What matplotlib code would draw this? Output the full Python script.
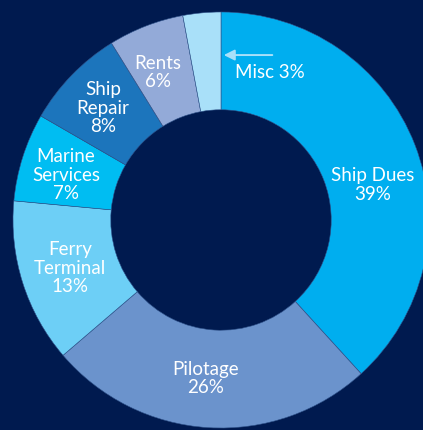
import matplotlib
matplotlib.use("Agg")
import matplotlib.pyplot as plt

# revenue shares (labels as printed, percent)
categories = ["Ship Dues", "Pilotage", "Ferry\nTerminal", "Marine\nServices",
              "Ship\nRepair", "Rents", "Misc"]
shares = [39, 26, 13, 7, 8, 6, 3]
colors = ["#00AEEF", "#6B93CC", "#6DCFF6", "#00BDF2", "#1C75BC", "#93AAD8", "#A9E0F9"]

# label anchor points (axes units, radius 1 = outer ring)
label_pos = [(0.731, 0.168), (-0.072, -0.76), (-0.726, -0.231), (-0.745, 0.216),
             (-0.567, 0.538), (-0.303, 0.711), None]

bg = "#001A4F"

fig = plt.figure(figsize=(4.23, 4.30), dpi=100, facecolor=bg)
ax = fig.add_axes([0, 0, 1, 1])
ax.set_facecolor(bg)

wedges, _ = ax.pie(shares, colors=colors, startangle=90, counterclock=False,
                   radius=1.0, wedgeprops=dict(width=0.47, edgecolor="#2f528a", linewidth=0.4))

for name, val, pos in zip(categories, shares, label_pos):
    if pos is None:
        continue
    ax.text(pos[0], pos[1], f"{name}\n{val}%", ha="center", va="center",
            color="white", fontsize=13.5, family="Lato", linespacing=1.08)

# Misc gets an arrow callout outside the thin slice
ax.annotate("", xy=(0.0, 0.793), xytext=(0.26, 0.793),
            arrowprops=dict(arrowstyle="-|>", color="#A9E0F9", lw=1.4, mutation_scale=16))
ax.text(0.236, 0.711, f"{categories[-1]} {shares[-1]}%", ha="center", va="center",
        color="white", fontsize=13.5, family="Lato")

ax.set_xlim(-221 / 208, (423 - 221) / 208)
ax.set_ylim(-(430 - 220) / 208, 220 / 208)
ax.set_aspect("auto")
ax.axis("off")

fig.savefig("out.png", dpi=100, facecolor=bg)
